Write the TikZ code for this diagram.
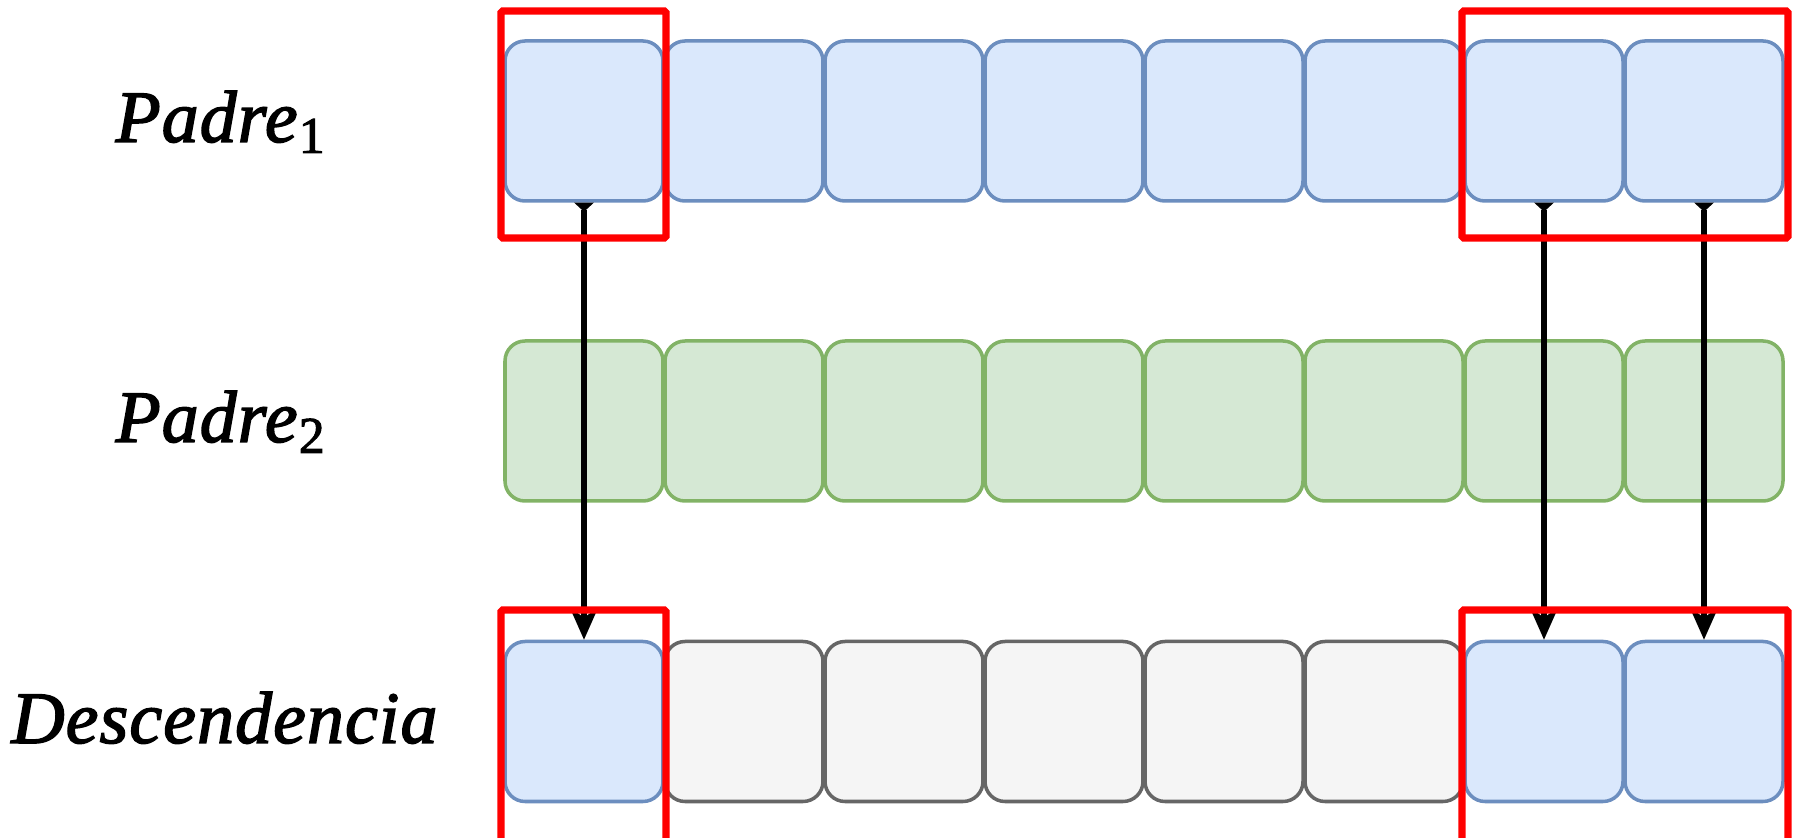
\documentclass[tikz,border=0pt]{standalone}
\usepackage{fontspec}
\setmainfont{Liberation Serif}
\newfontfamily\labelfont[FakeBold=2,LetterSpace=1.5]{Liberation Serif}
\usetikzlibrary{arrows.meta}

\definecolor{bluefill}{HTML}{DAE8FC}
\definecolor{blueline}{HTML}{6C8EBF}
\definecolor{greenfill}{HTML}{D5E8D4}
\definecolor{greenline}{HTML}{82B366}
\definecolor{grayfill}{HTML}{F5F5F5}
\definecolor{grayline}{HTML}{666666}

\tikzset{
	gene/.style={draw,rounded corners=0.2cm,minimum width=1.58cm,minimum height=1.6cm,line width=1pt,inner sep=0pt},
	bluegene/.style={gene,fill=bluefill,draw=blueline},
	greengene/.style={gene,fill=greenfill,draw=greenline},
	graygene/.style={gene,fill=grayfill,draw=grayline},
	rowlabel/.style={anchor=base,font=\labelfont\fontsize{21pt}{25pt}\selectfont},
	link/.style={line width=1.7pt,{Triangle[reversed,width=1.9mm,length=0.9mm]}-{Stealth[length=3.2mm,width=2.8mm,inset=1mm]}},
	sel/.style={draw=red,line width=2.1pt,rounded corners=0.5pt}
}

\begin{document}
\begin{tikzpicture}[y=-1cm]
		\path[use as bounding box] (0,0) rectangle (17.97,8.38);
		\clip (0,0) rectangle (17.97,8.38);
		
		% the two parents
		\foreach \i in {1,...,8}
		{
			\pgfmathsetmacro\xc{5.84+1.6*(\i-1)}
			\node[bluegene] (p1-\i) at (\xc,1.21) {};
			\node[greengene] (p2-\i) at (\xc,4.21) {};
		}
		% the offspring
		\foreach \i/\kind in {1/bluegene,2/graygene,3/graygene,4/graygene,5/graygene,6/graygene,7/bluegene,8/bluegene}
		{
			\pgfmathsetmacro\xc{5.84+1.6*(\i-1)}
			\node[\kind] (d-\i) at (\xc,7.215) {};
		}
		
		% labels for the rows
		\node[rowlabel] (padre1) at (2.21,1.42) {\textit{Padre}\textsubscript{1}};
		\node[rowlabel] (padre2) at (2.21,4.42) {\textit{Padre}\textsubscript{2}};
		\node[rowlabel] (desc) at (2.25,7.43) {\textit{Descendencia}};
		
		% copied genes
		\foreach \i in {1,7,8}
			\draw[link] (p1-\i.south) -- (d-\i.north);
		
		% red frames
		\draw[sel] (5.01,0.11) rectangle (6.66,2.38);
		\draw[sel] (14.62,0.11) rectangle (17.88,2.38);
		\draw[sel] (5.01,8.6) |- (6.66,6.10) -- (6.66,8.6);
		\draw[sel] (14.62,8.6) |- (17.88,6.10) -- (17.88,8.6);
	\end{tikzpicture}
\end{document}
